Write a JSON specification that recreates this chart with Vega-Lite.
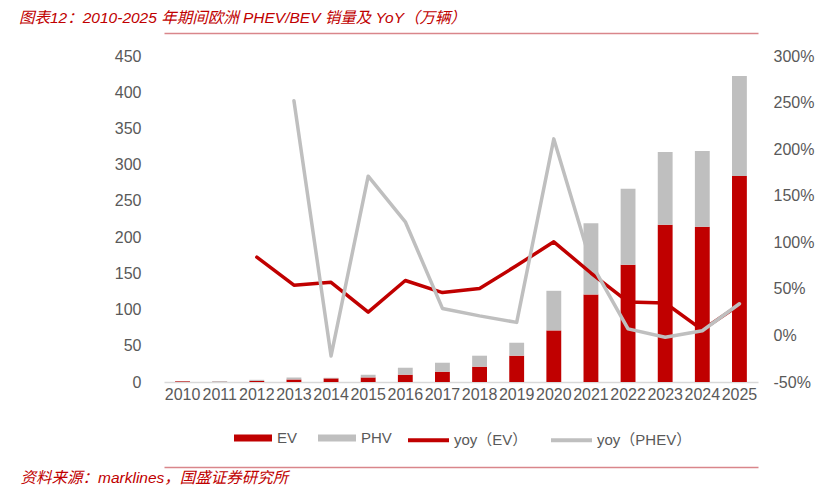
{
  "$schema": "https://vega.github.io/schema/vega-lite/v6.json",
  "width": 594,
  "height": 326,
  "autosize": {"type": "none"},
  "padding": {"left": 164, "top": 56, "right": 57, "bottom": 108},
  "background": "white",
  "config": {
    "view": {"stroke": null},
    "font": "Liberation Sans, Noto Sans CJK SC"
  },
  "title": {
    "text": "图表12：2010-2025 年期间欧洲 PHEV/BEV 销量及 YoY（万辆）",
    "anchor": "start",
    "frame": "group",
    "orient": "top",
    "dx": -145,
    "dy": 17,
    "offset": 12,
    "baseline": "alphabetic",
    "font": "Liberation Sans, Noto Sans CJK SC",
    "fontSize": 15.5,
    "fontStyle": "italic",
    "fontWeight": "normal",
    "color": "#c00000"
  },
  "datasets": {
    "bars": [
      {"year": "2010", "type": "EV", "value": 1.0},
      {"year": "2011", "type": "EV", "value": 0.4},
      {"year": "2012", "type": "EV", "value": 1.5},
      {"year": "2013", "type": "EV", "value": 3.6},
      {"year": "2014", "type": "EV", "value": 5.0},
      {"year": "2015", "type": "EV", "value": 6.3},
      {"year": "2016", "type": "EV", "value": 10.1},
      {"year": "2017", "type": "EV", "value": 14.2},
      {"year": "2018", "type": "EV", "value": 21.1},
      {"year": "2019", "type": "EV", "value": 36.3},
      {"year": "2020", "type": "EV", "value": 71.2},
      {"year": "2021", "type": "EV", "value": 120.8},
      {"year": "2022", "type": "EV", "value": 161.8},
      {"year": "2023", "type": "EV", "value": 216.9},
      {"year": "2024", "type": "EV", "value": 214.2},
      {"year": "2025", "type": "EV", "value": 284.5},
      {"year": "2010", "type": "PHV", "value": 0.3},
      {"year": "2011", "type": "PHV", "value": 0.9},
      {"year": "2012", "type": "PHV", "value": 1.5},
      {"year": "2013", "type": "PHV", "value": 2.7},
      {"year": "2014", "type": "PHV", "value": 0.8},
      {"year": "2015", "type": "PHV", "value": 3.7},
      {"year": "2016", "type": "PHV", "value": 9.6},
      {"year": "2017", "type": "PHV", "value": 12.4},
      {"year": "2018", "type": "PHV", "value": 15.2},
      {"year": "2019", "type": "PHV", "value": 17.9},
      {"year": "2020", "type": "PHV", "value": 54.7},
      {"year": "2021", "type": "PHV", "value": 98.5},
      {"year": "2022", "type": "PHV", "value": 104.8},
      {"year": "2023", "type": "PHV", "value": 100.7},
      {"year": "2024", "type": "PHV", "value": 104.8},
      {"year": "2025", "type": "PHV", "value": 137.9}
    ],
    "yoyEV": [
      {"year": "2012", "series": "yoy（EV）", "value": 0.84},
      {"year": "2013", "series": "yoy（EV）", "value": 0.54},
      {"year": "2014", "series": "yoy（EV）", "value": 0.57},
      {"year": "2015", "series": "yoy（EV）", "value": 0.25},
      {"year": "2016", "series": "yoy（EV）", "value": 0.59},
      {"year": "2017", "series": "yoy（EV）", "value": 0.46},
      {"year": "2018", "series": "yoy（EV）", "value": 0.505},
      {"year": "2019", "series": "yoy（EV）", "value": 0.75},
      {"year": "2020", "series": "yoy（EV）", "value": 1.005},
      {"year": "2021", "series": "yoy（EV）", "value": 0.67},
      {"year": "2022", "series": "yoy（EV）", "value": 0.36},
      {"year": "2023", "series": "yoy（EV）", "value": 0.348},
      {"year": "2024", "series": "yoy（EV）", "value": 0.06},
      {"year": "2025", "series": "yoy（EV）", "value": 0.33}
    ],
    "yoyPHEV": [
      {"year": "2013", "series": "yoy（PHEV）", "value": 2.52},
      {"year": "2014", "series": "yoy（PHEV）", "value": -0.22},
      {"year": "2015", "series": "yoy（PHEV）", "value": 1.71},
      {"year": "2016", "series": "yoy（PHEV）", "value": 1.22},
      {"year": "2017", "series": "yoy（PHEV）", "value": 0.29},
      {"year": "2018", "series": "yoy（PHEV）", "value": 0.21},
      {"year": "2019", "series": "yoy（PHEV）", "value": 0.14},
      {"year": "2020", "series": "yoy（PHEV）", "value": 2.11},
      {"year": "2021", "series": "yoy（PHEV）", "value": 0.78},
      {"year": "2022", "series": "yoy（PHEV）", "value": 0.07},
      {"year": "2023", "series": "yoy（PHEV）", "value": -0.02},
      {"year": "2024", "series": "yoy（PHEV）", "value": 0.05},
      {"year": "2025", "series": "yoy（PHEV）", "value": 0.34}
    ]
  },
  "layer": [
    {
      "data": {"name": "bars"},
      "mark": {"type": "bar"},
      "encoding": {
        "x": {
          "field": "year", "type": "nominal",
          "scale": {"paddingInner": 0.6, "paddingOuter": 0.3},
          "axis": {
            "orient": "bottom", "title": null, "labelAngle": 0,
            "labelFontSize": 16, "labelColor": "#595959", "labelPadding": 4,
            "labelOverlap": false, "labelBound": false, "labelFlush": false,
            "ticks": false, "domainColor": "#d9d9d9", "domainWidth": 1.5, "grid": false
          }
        },
        "y": {
          "field": "value", "type": "quantitative", "stack": "zero",
          "scale": {"domain": [0, 450], "nice": false},
          "axis": {
            "title": null, "values": [0, 50, 100, 150, 200, 250, 300, 350, 400, 450],
            "labelFontSize": 16, "labelColor": "#595959", "labelPadding": 23,
            "ticks": false, "domain": false, "grid": false
          }
        },
        "color": {
          "field": "type", "type": "nominal",
          "scale": {"domain": ["EV", "PHV"], "range": ["#c00000", "#bfbfbf"]},
          "legend": {
            "title": null, "orient": "none", "direction": "horizontal",
            "legendX": 70, "legendY": 363,
            "symbolType": "M-1,-0.18H1V0.18H-1Z", "symbolSize": 1444,
            "symbolStrokeWidth": 0, "labelFontSize": 15, "labelColor": "#595959",
            "labelOffset": 5, "columnPadding": 20
          }
        },
        "order": {"field": "type", "sort": "ascending"}
      }
    },
    {
      "data": {"name": "yoyEV"},
      "mark": {"type": "line", "strokeWidth": 3.5, "strokeCap": "round", "strokeJoin": "round"},
      "encoding": {
        "x": {
          "field": "year", "type": "nominal",
          "axis": {
            "orient": "top", "offset": 23, "title": null, "labels": false, "ticks": false,
            "domainColor": "#d9868b", "domainWidth": 1.5, "grid": false
          }
        },
        "y": {
          "field": "value", "type": "quantitative",
          "scale": {"domain": [-0.5, 3], "nice": false},
          "axis": {
            "orient": "right", "title": null,
            "values": [-0.5, 0, 0.5, 1, 1.5, 2, 2.5, 3],
            "labelExpr": "round(datum.value * 100) + '%'",
            "labelFontSize": 16, "labelColor": "#595959", "labelPadding": 15,
            "ticks": false, "domain": false, "grid": false
          }
        },
        "stroke": {
          "field": "series", "type": "nominal",
          "scale": {"domain": ["yoy（EV）", "yoy（PHEV）"], "range": ["#c00000", "#bfbfbf"]},
          "legend": {
            "title": null, "orient": "none", "direction": "horizontal",
            "legendX": 242, "legendY": 361.5,
            "symbolType": "stroke", "symbolSize": 1681, "symbolStrokeWidth": 4,
            "labelFontSize": 15, "labelColor": "#595959",
            "labelOffset": 3, "columnPadding": 15
          }
        }
      }
    },
    {
      "data": {"name": "yoyPHEV"},
      "mark": {"type": "line", "strokeWidth": 3.5, "strokeCap": "round", "strokeJoin": "round"},
      "encoding": {
        "x": {
          "field": "year", "type": "nominal",
          "axis": {
            "orient": "bottom", "offset": 85, "labels": false, "ticks": false,
            "domainColor": "#d9868b", "domainWidth": 1.5, "grid": false,
            "title": "资料来源：marklines，国盛证券研究所",
            "titleX": -144, "titleY": 15.5, "titleAlign": "left", "titleAnchor": null,
            "titleBaseline": "alphabetic", "titleFontSize": 15.5, "titleFontStyle": "italic",
            "titleFontWeight": "normal", "titleColor": "#c00000",
            "titleFont": "Liberation Sans, Noto Sans CJK SC"
          }
        },
        "y": {
          "field": "value", "type": "quantitative",
          "scale": {"domain": [-0.5, 3], "nice": false},
          "axis": null
        },
        "stroke": {"field": "series", "type": "nominal"}
      }
    }
  ],
  "resolve": {
    "scale": {"y": "independent"},
    "axis": {"x": "independent", "y": "independent"}
  }
}
